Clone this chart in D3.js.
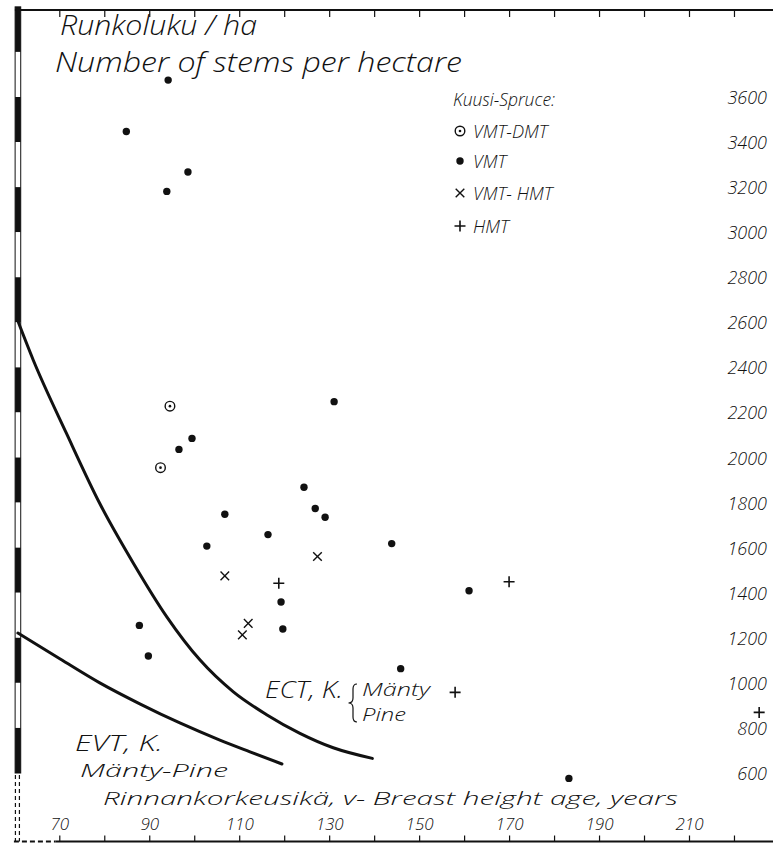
<!DOCTYPE html>
<html>
<head>
<meta charset="utf-8">
<script src="https://cdn.jsdelivr.net/npm/d3@7"></script>
<style>
  html, body { margin: 0; padding: 0; background: #fff; }
  svg { display: block; }
  text { font-family: "Open Sans", "DejaVu Sans", sans-serif; font-style: italic; font-weight: 300; fill: #111; }
</style>
</head>
<body>
<div id="chart"></div>
<script>
// --- data ---------------------------------------------------------
// ages (years) and stem counts (stems/ha)
const ageTicks = [70, 80, 90, 100, 110, 120, 130, 140, 150, 160, 170, 180, 190, 200, 210, 220, 230];
const ageLabels = [70, 90, 110, 130, 150, 170, 190, 210];
const stemLabels = [600, 800, 1000, 1200, 1400, 1600, 1800, 2000, 2200, 2400, 2600, 2800, 3000, 3200, 3400, 3600];
const barBreaks = [4000, 3800, 3600, 3400, 3200, 3000, 2800, 2600, 2400, 2200, 2000, 1800, 1600, 1400, 1200, 1000, 800, 600];

// Kuusi - Spruce stands: [age, stems/ha]
const vmtDmt = [[94.6, 2228], [92.5, 1955]];
const vmt = [
  [94.2, 3675], [84.9, 3447], [98.6, 3267], [93.9, 3181],
  [99.5, 2085], [96.6, 2036], [131.1, 2248], [124.4, 1868],
  [126.9, 1774], [129.1, 1735], [106.8, 1748], [116.4, 1658],
  [102.8, 1607], [143.9, 1618], [119.3, 1359], [119.7, 1239],
  [87.8, 1255], [89.8, 1119], [145.9, 1063], [161.1, 1409],
  [183.3, 576]
];
const vmtHmt = [[127.4, 1561], [106.8, 1475], [112.0, 1264], [110.7, 1213]];
const hmt = [[118.8, 1442], [170.0, 1449], [158.0, 958], [225.6, 869]];

// pine reference curves
const ectPine = [
  [60.9, 2600], [64.2, 2433], [71.6, 2107], [79.0, 1796], [86.5, 1530],
  [93.9, 1293], [101.3, 1101], [108.7, 960], [116.0, 860], [123.5, 776],
  [130.9, 712], [139.6, 665]
];
const evtPine = [
  [60.8, 1221], [70.2, 1106], [79.0, 1000], [87.9, 907], [96.8, 822],
  [105.7, 746], [112.4, 694], [119.5, 640]
];

const legendItems = ["VMT-DMT", "VMT", "VMT- HMT", "HMT"];

// --- setup ---------------------------------------------------------
const width = 773, height = 846;
const ink = "#111";

const x = d3.scaleLinear().domain([70, 210]).range([59.3, 689]);
const y = d3.scaleLinear().domain([600, 3600]).range([773, 97]);

const frameTop = 10, frameBottom = 841.5;
const barAge = 60.8;

const svg = d3.select("#chart").append("svg")
  .attr("width", width)
  .attr("height", height)
  .attr("viewBox", `0 0 ${width} ${height}`);

svg.append("rect").attr("width", width).attr("height", height).attr("fill", "#fff");

// --- frame ---------------------------------------------------------
const bx = x(barAge);
svg.append("line")
  .attr("x1", bx - 3).attr("x2", width)
  .attr("y1", frameTop).attr("y2", frameTop)
  .attr("stroke", ink).attr("stroke-width", 2);

svg.append("line")
  .attr("x1", x(70) - 4).attr("x2", width)
  .attr("y1", frameBottom).attr("y2", frameBottom)
  .attr("stroke", ink).attr("stroke-width", 2);

svg.append("line")
  .attr("x1", bx - 4).attr("x2", x(70) - 4)
  .attr("y1", frameBottom).attr("y2", frameBottom)
  .attr("stroke", ink).attr("stroke-width", 2)
  .attr("stroke-dasharray", "5,3");

// left scale bar: alternating black / white blocks
const bar = svg.append("g");
bar.selectAll("rect.seg")
  .data(d3.pairs(barBreaks))
  .join("rect")
  .attr("class", "seg")
  .attr("x", bx - 2.8)
  .attr("width", 5.6)
  .attr("y", d => y(d[0]))
  .attr("height", d => y(d[1]) - y(d[0]))
  .attr("fill", (d, i) => i % 2 === 0 ? ink : "#fff");
bar.append("rect")
  .attr("x", bx - 2.8).attr("width", 5.6)
  .attr("y", y(barBreaks[0])).attr("height", y(600) - y(barBreaks[0]))
  .attr("fill", "none").attr("stroke", ink).attr("stroke-width", 1);
[-2.5, 1.5].forEach(o => {
  bar.append("line")
    .attr("x1", bx + o).attr("x2", bx + o)
    .attr("y1", y(600) + 2).attr("y2", frameBottom)
    .attr("stroke", ink).attr("stroke-width", 1.2)
    .attr("stroke-dasharray", "4,3");
});

// top ticks
const topAxis = svg.append("g")
  .attr("transform", `translate(0,${frameTop})`)
  .call(d3.axisBottom(x).tickValues(ageTicks.filter(d => x(d) < width)).tickSize(7).tickFormat(""));
topAxis.select(".domain").remove();
topAxis.selectAll("line").attr("stroke", ink).attr("stroke-width", 1.2);

// bottom axis, ticks pointing up and labels above
const botAxis = svg.append("g")
  .attr("transform", `translate(0,${frameBottom})`)
  .call(d3.axisTop(x)
    .tickValues(ageTicks.filter(d => x(d) < width))
    .tickSize(6)
    .tickPadding(6)
    .tickFormat(d => ageLabels.includes(d) ? d : ""));
botAxis.select(".domain").remove();
botAxis.selectAll("line").attr("stroke", ink).attr("stroke-width", 1.2);
botAxis.selectAll("text")
  .style("font-family", "Open Sans, DejaVu Sans, sans-serif")
  .style("font-size", "17px")
  .attr("fill", ink);

// right labels
const rightAxis = svg.append("g")
  .attr("transform", "translate(767,0)")
  .call(d3.axisLeft(y).tickValues(stemLabels).tickSize(0).tickPadding(0).tickFormat(d3.format("d")));
rightAxis.select(".domain").remove();
rightAxis.selectAll("text")
  .style("font-family", "Open Sans, DejaVu Sans, sans-serif")
  .style("font-size", "18px")
  .attr("fill", ink)
  .attr("dy", "0.36em");

// --- curves --------------------------------------------------------
const line = d3.line()
  .x(d => x(d[0]))
  .y(d => y(d[1]))
  .curve(d3.curveMonotoneX);

svg.selectAll("path.curve")
  .data([ectPine, evtPine])
  .join("path")
  .attr("class", "curve")
  .attr("d", line)
  .attr("fill", "none")
  .attr("stroke", ink)
  .attr("stroke-width", 3)
  .attr("stroke-linecap", "round");

// --- markers -------------------------------------------------------
function drawDot(g) {
  g.append("circle").attr("r", 3.7).attr("fill", ink);
}
function drawRing(g) {
  g.append("circle").attr("r", 4.8).attr("fill", "#fff").attr("stroke", ink).attr("stroke-width", 1.4);
  g.append("circle").attr("r", 1.3).attr("fill", ink);
}
function drawCross(g) {
  g.append("path").attr("d", "M-4.3,-4.3L4.3,4.3M-4.3,4.3L4.3,-4.3")
    .attr("stroke", ink).attr("stroke-width", 1.4);
}
function drawPlus(g) {
  g.append("path").attr("d", "M-5.5,0L5.5,0M0,-5.5L0,5.5")
    .attr("stroke", ink).attr("stroke-width", 1.6);
}
const drawers = [drawRing, drawDot, drawCross, drawPlus];

[vmtDmt, vmt, vmtHmt, hmt].forEach((series, k) => {
  svg.append("g").selectAll("g")
    .data(series)
    .join("g")
    .attr("transform", d => `translate(${x(d[0])},${y(d[1])})`)
    .each(function () { drawers[k](d3.select(this)); });
});

// --- texts ---------------------------------------------------------
function label(txt, px, py, size, len) {
  const t = svg.append("text")
    .attr("x", px).attr("y", py)
    .style("font-size", size + "px")
    .text(txt);
  if (len) t.attr("textLength", len).attr("lengthAdjust", "spacingAndGlyphs");
  return t;
}

label("Runkoluku / ha", 60, 35, 27, 197);
label("Number of stems per hectare", 55, 72, 27, 407);

label("Kuusi-Spruce:", 453, 106, 19, 102);
legendItems.forEach((name, i) => {
  const cy = [131, 161, 193, 226][i];
  const g = svg.append("g").attr("transform", `translate(460,${cy})`);
  drawers[i](g);
  label(name, 473, cy + 6.5, 18);
});

label("Rinnankorkeusikä, v- Breast height age, years", 103, 805, 18, 575);

label("ECT, K.", 265, 698, 24, 78);
svg.append("path")
  .attr("d", "M357,684 q-4,0 -4,5 v9 q0,5 -4.5,5 q4.5,0 4.5,5 v9 q0,5 4,5")
  .attr("fill", "none").attr("stroke", ink).attr("stroke-width", 1.2);
label("Mänty", 362, 696, 18, 68);
label("Pine", 362, 721, 18, 44);

label("EVT, K.", 75, 751, 22, 88);
label("Mänty-Pine", 80, 777, 18, 148);
</script>
</body>
</html>
